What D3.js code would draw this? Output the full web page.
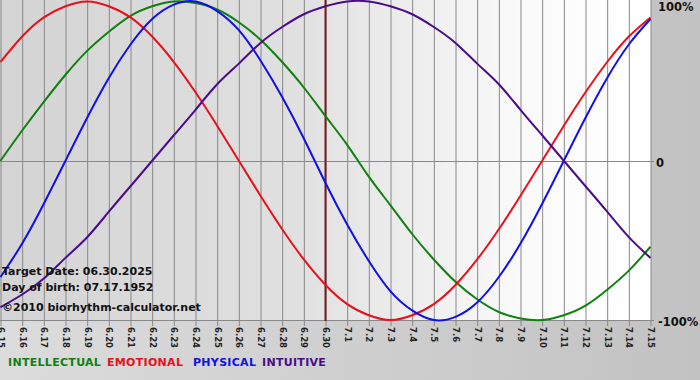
<!DOCTYPE html>
<html><head><meta charset="utf-8">
<script src="https://cdn.jsdelivr.net/npm/d3@7"></script>
<style>html,body{margin:0;padding:0;overflow:hidden;background:#cfcfcf}svg{display:block}</style>
</head><body>
<svg id="c" width="700" height="380"></svg>
<script>
const dayLabels = ["6.15","6.16","6.17","6.18","6.19","6.20","6.21","6.22","6.23","6.24","6.25","6.26","6.27","6.28","6.29","6.30","7.1","7.2","7.3","7.4","7.5","7.6","7.7","7.8","7.9","7.10","7.11","7.12","7.13","7.14","7.15"];
const intellectual = [0,0.19,0.37,0.54,0.69,0.81,0.91,0.97,1.00,0.99,0.95,0.87,0.76,0.62,0.46,0.28,0.10,-0.10,-0.28,-0.46,-0.62,-0.76,-0.87,-0.95,-0.99,-1.00,-0.97,-0.91,-0.81,-0.69,-0.54];
const emotional = [0.62,0.78,0.90,0.97,1.00,0.97,0.90,0.78,0.62,0.43,0.22,0,-0.22,-0.43,-0.62,-0.78,-0.90,-0.97,-1.00,-0.97,-0.90,-0.78,-0.62,-0.43,-0.22,0,0.22,0.43,0.62,0.78,0.90];
const physical = [-0.73,-0.52,-0.27,0,0.27,0.52,0.73,0.89,0.98,1.00,0.94,0.82,0.63,0.40,0.14,-0.14,-0.40,-0.63,-0.82,-0.94,-1.00,-0.98,-0.89,-0.73,-0.52,-0.27,0,0.27,0.52,0.73,0.89];
const intuitive = [-0.92,-0.84,-0.74,-0.61,-0.48,-0.32,-0.16,0,0.16,0.32,0.48,0.61,0.74,0.84,0.92,0.97,1.00,1.00,0.97,0.92,0.84,0.74,0.61,0.48,0.32,0.16,0,-0.16,-0.32,-0.48,-0.61];
const seriesNames = ["INTELLECTUAL","EMOTIONAL","PHYSICAL","INTUITIVE"];
const yTickLabels = ["100%","0","-100%"];
const yTickValues = [1,0,-1];
const targetIndex = 15;
const infoLines = ["Target Date: 06.30.2025","Day of birth: 07.17.1952","\u00a92010 biorhythm-calculator.net"];

const colors = ["#108010","#e8101a","#1010e8","#4a0c8a"];
const seriesData = [intellectual, emotional, physical, intuitive];

const svg = d3.select("#c");
const W = 700, H = 380;
const plotL = 0, plotR = 651, plotT = 0, plotB = 321;
const x = d3.scaleLinear().domain([0, dayLabels.length - 1]).range([0.5, 650.5]);
const y = d3.scaleLinear().domain([-1, 1]).range([320, 1.5]);

const defs = svg.append("defs");
const og = defs.append("linearGradient").attr("id","outer").attr("x1","0").attr("x2","1").attr("y1","0").attr("y2","0");
og.append("stop").attr("offset","0").attr("stop-color","#dcdcdc");
og.append("stop").attr("offset","1").attr("stop-color","#c2c2c2");
const pg = defs.append("linearGradient").attr("id","plot").attr("x1","0").attr("x2","1").attr("y1","0").attr("y2","0");
pg.append("stop").attr("offset","0").attr("stop-color","#d4d4d4");
pg.append("stop").attr("offset","0.45").attr("stop-color","#e0e0e0");
pg.append("stop").attr("offset","0.8").attr("stop-color","#fafafa");
pg.append("stop").attr("offset","1").attr("stop-color","#ffffff");

svg.append("rect").attr("width",W).attr("height",H).attr("fill","url(#outer)");
svg.append("rect").attr("x",plotL).attr("y",plotT).attr("width",plotR-plotL).attr("height",plotB-plotT).attr("fill","url(#plot)");

// vertical grid + ticks
const xAxis = d3.axisBottom(x).tickValues(d3.range(dayLabels.length)).tickFormat(i => dayLabels[i]).tickSize(plotB + 5).tickSizeOuter(0);
const gx = svg.append("g").call(xAxis);
gx.select(".domain").remove();
gx.selectAll(".tick line").attr("stroke","#888").attr("stroke-width",1);
gx.selectAll(".tick text")
  .attr("transform", "translate(0," + (plotB + 6) + ") rotate(90)")
  .attr("x", 0).attr("y", 0).attr("dy","0.35em").attr("dx","0")
  .attr("text-anchor","start")
  .attr("font-family","DejaVu Sans, Verdana, sans-serif").attr("font-weight","bold").attr("font-size","8.5px").attr("fill","#222");

// horizontal lines
svg.selectAll("line.h").data(yTickValues.filter(d => d !== 1)).join("line").attr("class","h")
  .attr("x1",plotL).attr("x2",plotR + 3)
  .attr("y1",d => Math.round(y(d)) + 0.5).attr("y2",d => Math.round(y(d)) + 0.5)
  .attr("stroke","#888").attr("stroke-width",1);

// right labels
svg.selectAll("text.yl").data(yTickValues).join("text").attr("class","yl")
  .attr("x", (d,i) => i===1 ? 656 : 658).attr("y", d => d===1 ? 7 : (d===0 ? y(d) + 2 : 322))
  .attr("dy","0.35em")
  .attr("font-family","DejaVu Sans, Verdana, sans-serif").attr("font-weight","bold").attr("font-size","11.5px").attr("fill","#111")
  .text((d,i) => yTickLabels[i]);

// target line
svg.append("line").attr("x1",x(targetIndex)).attr("x2",x(targetIndex)).attr("y1",0).attr("y2",plotB)
  .attr("stroke","#7a1a1a").attr("stroke-width",2);

// curves
const line = d3.line().x((d,i) => x(i)).y(d => y(d)).curve(d3.curveNatural);
svg.append("g").selectAll("path").data(seriesData).join("path")
  .attr("d", line).attr("fill","none").attr("stroke",(d,i) => colors[i]).attr("stroke-width",2);

// info text
svg.selectAll("text.info").data(infoLines).join("text").attr("class","info")
  .attr("x",2).attr("y",(d,i) => [275,291,311][i])
  .attr("font-family","DejaVu Sans, Verdana, sans-serif").attr("font-weight","bold").attr("font-size","11px").attr("fill","#111")
  .text(d => d);

// legend
const legendX = [8, 107, 193, 262];
svg.selectAll("text.lg").data(seriesNames).join("text").attr("class","lg")
  .attr("x",(d,i) => legendX[i]).attr("y",366)
  .attr("font-family","DejaVu Sans, Verdana, sans-serif").attr("font-weight","bold").attr("font-size","11px")
  .attr("letter-spacing","0.3px")
  .attr("fill",(d,i) => colors[i]).text(d => d);
</script>
</body></html>
